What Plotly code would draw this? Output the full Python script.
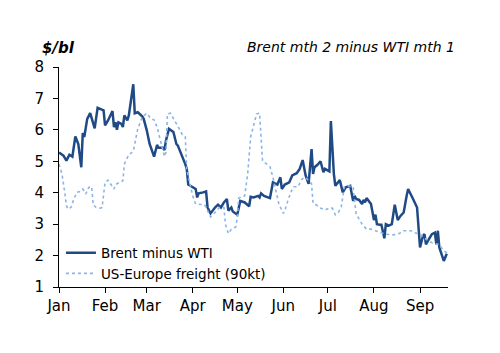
import plotly.graph_objects as go

# Brent mth 2 minus WTI mth 1 ($/bl)
brent_dates = [
    "2010-01-01", "2010-01-04", "2010-01-06", "2010-01-08", "2010-01-10", "2010-01-12",
    "2010-01-14", "2010-01-16", "2010-01-17", "2010-01-18", "2010-01-20", "2010-01-22",
    "2010-01-25", "2010-01-27", "2010-01-31", "2010-02-01", "2010-02-03", "2010-02-06",
    "2010-02-07", "2010-02-08", "2010-02-09", "2010-02-10", "2010-02-12", "2010-02-13",
    "2010-02-14", "2010-02-16", "2010-02-17", "2010-02-20", "2010-02-21", "2010-02-23",
    "2010-02-26", "2010-02-27", "2010-03-01", "2010-03-03", "2010-03-06", "2010-03-08",
    "2010-03-09", "2010-03-12", "2010-03-13", "2010-03-14", "2010-03-16", "2010-03-19",
    "2010-03-21", "2010-03-22", "2010-03-27", "2010-03-28", "2010-03-29", "2010-04-01",
    "2010-04-03", "2010-04-04", "2010-04-05", "2010-04-08", "2010-04-10", "2010-04-11",
    "2010-04-13", "2010-04-16", "2010-04-18", "2010-04-20", "2010-04-22", "2010-04-24",
    "2010-04-25", "2010-04-27", "2010-04-28", "2010-05-01", "2010-05-03", "2010-05-06",
    "2010-05-09", "2010-05-10", "2010-05-12", "2010-05-15", "2010-05-16", "2010-05-17",
    "2010-05-19", "2010-05-23", "2010-05-25", "2010-05-28", "2010-05-30", "2010-05-31",
    "2010-06-02", "2010-06-05", "2010-06-07", "2010-06-10", "2010-06-12", "2010-06-14",
    "2010-06-16", "2010-06-18", "2010-06-20", "2010-06-21", "2010-06-22", "2010-06-24",
    "2010-06-26", "2010-06-28", "2010-06-29", "2010-07-02", "2010-07-03", "2010-07-05",
    "2010-07-06", "2010-07-09", "2010-07-11", "2010-07-13", "2010-07-16", "2010-07-18",
    "2010-07-19", "2010-07-20", "2010-07-22", "2010-07-24", "2010-07-25", "2010-07-26",
    "2010-07-27", "2010-07-30", "2010-08-01", "2010-08-02", "2010-08-03", "2010-08-05",
    "2010-08-06", "2010-08-08", "2010-08-09", "2010-08-11", "2010-08-13", "2010-08-15",
    "2010-08-17", "2010-08-19", "2010-08-21", "2010-08-23", "2010-08-24", "2010-08-27",
    "2010-08-28", "2010-08-30", "2010-09-01", "2010-09-03", "2010-09-04", "2010-09-05",
    "2010-09-07", "2010-09-09", "2010-09-11", "2010-09-12", "2010-09-13", "2010-09-14",
    "2010-09-17", "2010-09-19",
]
brent_values = [
    5.28, 5.18, 5.02, 5.21, 5.15, 5.79,
    5.55, 4.81, 5.90, 5.77, 6.35, 6.53,
    6.05, 6.70, 6.62, 6.14, 6.30, 6.60,
    6.09, 6.24, 6.00, 6.24, 6.19, 6.09,
    6.46, 6.30, 6.46, 7.45, 6.53, 6.56,
    6.43, 6.35, 6.00, 5.55, 5.15, 5.52,
    5.43, 5.43, 5.36, 5.66, 6.03, 5.93,
    5.55, 5.50, 4.91, 4.76, 4.26, 4.17,
    4.12, 3.85, 3.98, 4.01, 4.04, 3.53,
    3.34, 3.53, 3.62, 3.53, 3.69, 3.80,
    3.43, 3.53, 3.40, 3.30, 3.74, 3.69,
    3.57, 3.87, 3.85, 3.90, 3.85, 3.98,
    3.90, 3.83, 4.33, 4.26, 4.49, 4.12,
    4.26, 4.33, 4.55, 4.62, 4.76, 5.04,
    4.55, 4.28, 5.39, 4.60, 4.81, 4.89,
    5.00, 4.65, 4.76, 4.68, 6.28, 4.60,
    4.22, 4.40, 4.01, 4.17, 4.22, 3.74,
    3.90, 3.80, 3.77, 3.64, 3.77, 3.69,
    3.83, 3.64, 3.13, 3.30, 3.00, 2.98,
    2.98, 2.55, 3.00, 2.95, 3.00, 3.62,
    3.13, 3.27, 3.37, 3.90, 4.12, 3.83,
    3.74, 3.53, 2.26, 2.63, 2.68, 2.36,
    2.52, 2.68, 2.73, 2.36, 2.79, 2.26,
    1.83, 2.06,
]

# US-Europe freight (90kt) ($/bl)
freight_dates = [
    "2010-01-01", "2010-01-03", "2010-01-05", "2010-01-06", "2010-01-07", "2010-01-09",
    "2010-01-11", "2010-01-13", "2010-01-15", "2010-01-17", "2010-01-19", "2010-01-21",
    "2010-01-23", "2010-01-24", "2010-01-26", "2010-01-29", "2010-01-30", "2010-02-01",
    "2010-02-03", "2010-02-05", "2010-02-07", "2010-02-08", "2010-02-10", "2010-02-13",
    "2010-02-14", "2010-02-17", "2010-02-20", "2010-02-21", "2010-02-23", "2010-02-26",
    "2010-03-01", "2010-03-04", "2010-03-06", "2010-03-08", "2010-03-11", "2010-03-13",
    "2010-03-14", "2010-03-15", "2010-03-17", "2010-03-20", "2010-03-23", "2010-03-25",
    "2010-03-27", "2010-03-28", "2010-03-30", "2010-04-01", "2010-04-03", "2010-04-07",
    "2010-04-09", "2010-04-11", "2010-04-13", "2010-04-16", "2010-04-19", "2010-04-22",
    "2010-04-23", "2010-04-25", "2010-04-27", "2010-04-30", "2010-05-01", "2010-05-02",
    "2010-05-04", "2010-05-06", "2010-05-08", "2010-05-09", "2010-05-10", "2010-05-12",
    "2010-05-14", "2010-05-16", "2010-05-18", "2010-05-20", "2010-05-23", "2010-05-25",
    "2010-05-27", "2010-05-29", "2010-06-01", "2010-06-02", "2010-06-04", "2010-06-06",
    "2010-06-08", "2010-06-11", "2010-06-13", "2010-06-15", "2010-06-17", "2010-06-20",
    "2010-06-21", "2010-06-23", "2010-06-26", "2010-06-29", "2010-07-02", "2010-07-04",
    "2010-07-06", "2010-07-08", "2010-07-10", "2010-07-12", "2010-07-14", "2010-07-18",
    "2010-07-19", "2010-07-20", "2010-07-22", "2010-07-24", "2010-07-27", "2010-07-30",
    "2010-08-02", "2010-08-06", "2010-08-09", "2010-08-14", "2010-08-18", "2010-08-21",
    "2010-08-26", "2010-08-28", "2010-09-01", "2010-09-05", "2010-09-09", "2010-09-13",
    "2010-09-15", "2010-09-17", "2010-09-20",
]
freight_values = [
    4.91, 4.60, 3.96, 3.59, 3.48, 3.53,
    3.80, 4.01, 4.04, 4.12, 3.96, 4.17,
    4.19, 3.62, 3.53, 3.51, 3.53, 4.33,
    4.40, 4.26, 4.12, 4.26, 4.30, 4.38,
    4.91, 5.21, 5.32, 5.55, 6.03, 6.40,
    6.53, 6.35, 6.32, 6.09, 5.55, 5.15,
    5.29, 6.51, 6.53, 6.30, 6.03, 5.85,
    5.79, 4.72, 4.26, 3.90, 3.64, 3.62,
    3.62, 3.43, 3.23, 3.37, 3.53, 3.53,
    3.00, 2.70, 2.84, 2.91, 3.21, 3.83,
    3.87, 3.90, 4.60, 5.18, 5.77, 6.14,
    6.51, 6.53, 5.02, 4.94, 4.83, 4.49,
    4.01, 3.64, 3.34, 3.43, 3.74, 4.01,
    4.19, 4.19, 4.40, 4.49, 4.44, 4.28,
    3.66, 3.62, 3.51, 3.45, 3.51, 3.51,
    3.30, 3.37, 3.55, 4.17, 4.22, 4.19,
    3.74, 3.32, 3.16, 3.00, 2.84, 2.84,
    2.79, 2.73, 2.68, 2.66, 2.70, 2.79,
    2.79, 2.73, 2.68, 2.52, 2.41, 2.36,
    2.28, 2.15, 2.06,
]

month_ticks = ["2010-01-01", "2010-02-01", "2010-03-01", "2010-04-01", "2010-05-01",
               "2010-06-01", "2010-07-01", "2010-08-01", "2010-09-01"]
month_labels = ["Jan", "Feb", "Mar", "Apr", "May", "Jun", "Jul", "Aug", "Sep"]
y_ticks = [1, 2, 3, 4, 5, 6, 7, 8]

FONT = "DejaVu Sans, sans-serif"

fig = go.Figure()
fig.add_trace(go.Scatter(
    x=brent_dates, y=brent_values, mode="lines", name="Brent minus WTI",
    line=dict(color="#1F4A85", width=2.5),
))
fig.add_trace(go.Scatter(
    x=freight_dates, y=freight_values, mode="lines", name="US-Europe freight (90kt)",
    line=dict(color="#8CB4E6", width=1.6, dash="dot"),
))

fig.update_layout(
    width=500, height=353,
    margin=dict(l=59, r=52, t=67, b=66),
    paper_bgcolor="white", plot_bgcolor="white",
    font=dict(family=FONT, size=15, color="#000000"),
    showlegend=True,
    legend=dict(
        x=0.005, y=0.225, xanchor="left", yanchor="top",
        bgcolor="rgba(0,0,0,0)", font=dict(size=13.5, family=FONT),
        tracegroupgap=0, itemwidth=30,
    ),
    xaxis=dict(
        type="date", range=["2010-01-01", "2010-09-19 20:00"],
        tickmode="array", tickvals=month_ticks, ticktext=month_labels,
        showline=True, linecolor="#000000", linewidth=1,
        ticks="outside", ticklen=5, tickcolor="#000000",
        showgrid=False, zeroline=False,
        tickfont=dict(size=15, family=FONT),
    ),
    yaxis=dict(
        range=[1, 8], tickmode="array", tickvals=y_ticks,
        showline=True, linecolor="#000000", linewidth=1,
        ticks="outside", ticklen=5, tickcolor="#000000",
        showgrid=False, zeroline=False, ticklabelstandoff=6,
        tickfont=dict(size=15, family=FONT),
    ),
    annotations=[
        dict(text="<b><i>$/bl</i></b>", xref="paper", yref="paper",
             x=-0.049, y=1.086, xanchor="left", yanchor="middle",
             showarrow=False, font=dict(size=15, family=FONT)),
        dict(text="<i>Brent mth 2 minus WTI mth 1</i>", xref="paper", yref="paper",
             x=1.024, y=1.093, xanchor="right", yanchor="middle",
             showarrow=False, font=dict(size=14, family=FONT)),
    ],
)

fig.write_html("out.html")
